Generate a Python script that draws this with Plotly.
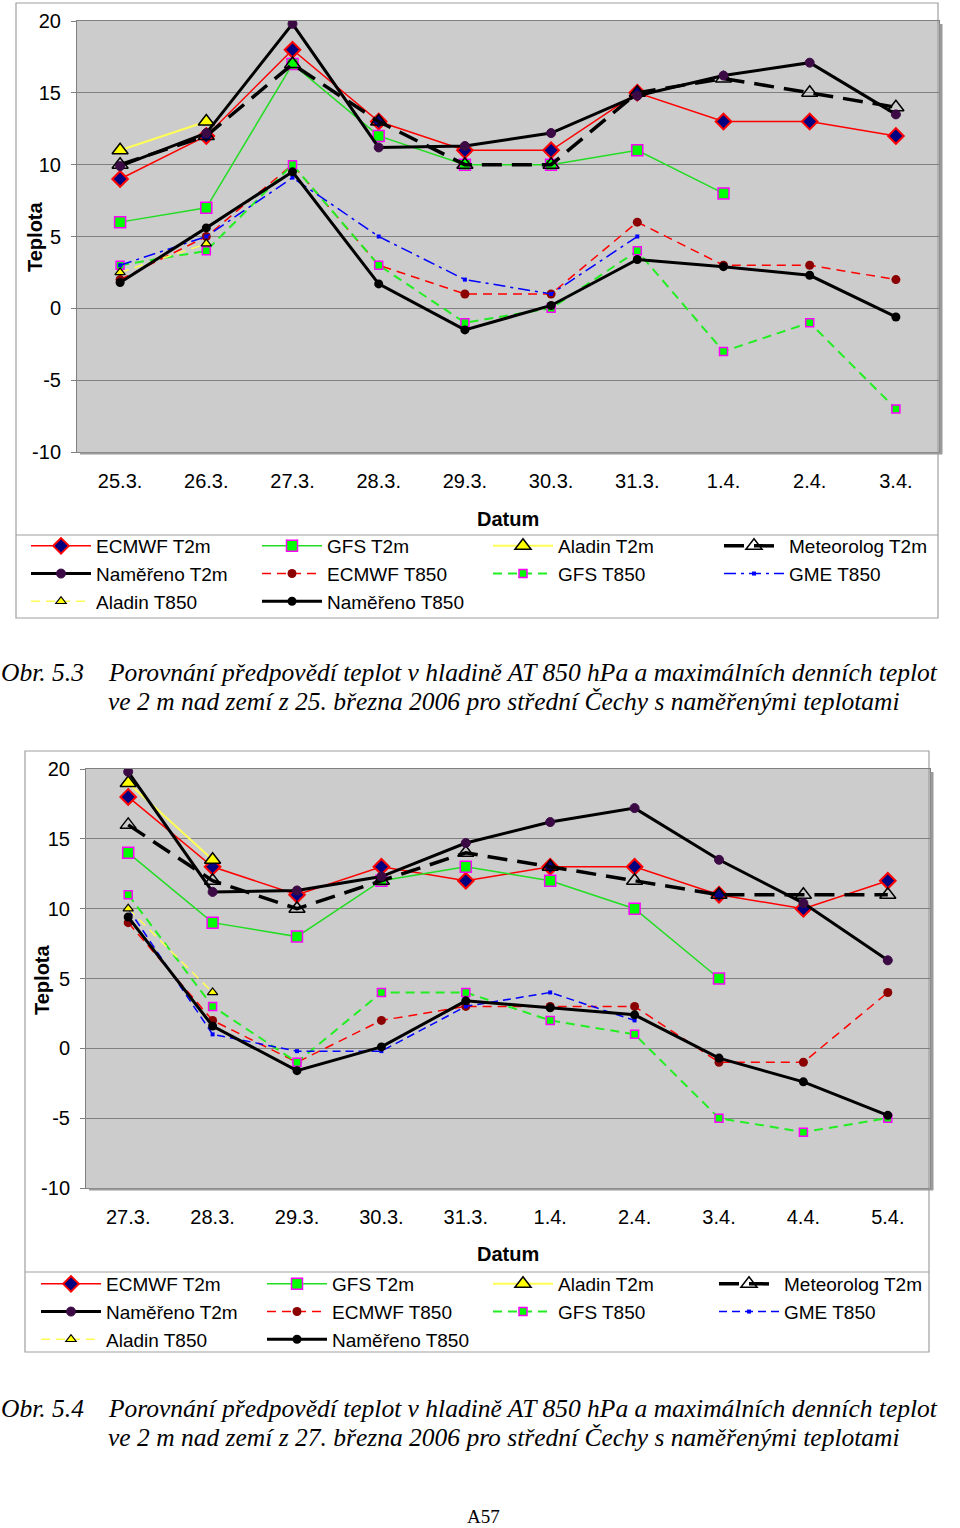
import plotly.graph_objects as go

W, H = 960, 1528

# ---------------- data ----------------
series_names = ["ECMWF T2m", "GFS T2m", "Aladin T2m", "Meteorolog T2m", "Naměřeno T2m",
                "ECMWF T850", "GFS T850", "GME T850", "Aladin T850", "Naměřeno T850"]

dates_a = ["25.3.", "26.3.", "27.3.", "28.3.", "29.3.", "30.3.", "31.3.", "1.4.", "2.4.", "3.4."]
ecmwf_t2m_a = [9, 12, 18, 13, 11, 11, 15, 13, 13, 12]
gfs_t2m_a = [6, 7, 17, 12, 10, 10, 11, 8, None, None]
aladin_t2m_a = [11, 13, None, None, None, None, None, None, None, None]
meteo_t2m_a = [10, 12, 17, 13, 10, 10, 15, 16, 15, 14]
nam_t2m_a = [9.9, 12.2, 19.8, 11.2, 11.3, 12.2, 14.8, 16.2, 17.1, 13.5]
ecmwf_t850_a = [2, 5, 10, 3, 1, 1, 6, 3, 3, 2]
gfs_t850_a = [3, 4, 10, 3, -1, 0, 4, -3, -1, -7]
gme_t850_a = [3, 5, 9.1, 5, 2, 1, 5, None, None, None]
aladin_t850_a = [2.5, 4.5, None, None, None, None, None, None, None, None]
nam_t850_a = [1.8, 5.6, 9.5, 1.7, -1.5, 0.2, 3.4, 2.9, 2.3, -0.6]

dates_b = ["27.3.", "28.3.", "29.3.", "30.3.", "31.3.", "1.4.", "2.4.", "3.4.", "4.4.", "5.4."]
ecmwf_t2m_b = [18, 13, 11, 13, 12, 13, 13, 11, 10, 12]
gfs_t2m_b = [14, 9, 8, 12, 13, 12, 10, 5, None, None]
aladin_t2m_b = [19, 13.5, None, None, None, None, None, None, None, None]
meteo_t2m_b = [16, 12, 10, 12, 14, 13, 12, 11, 11, 11]
nam_t2m_b = [19.8, 11.2, 11.3, 12.3, 14.7, 16.2, 17.2, 13.5, 10.4, 6.3]
ecmwf_t850_b = [9, 2, -1, 2, 3, 3, 3, -1, -1, 4]
gfs_t850_b = [11, 3, -1, 4, 4, 2, 1, -5, -6, -5]
gme_t850_b = [10, 1, -0.2, -0.2, 3, 4, 2, None, None, None]
aladin_t850_b = [10, 4, None, None, None, None, None, None, None, None]
nam_t850_b = [9.4, 1.6, -1.6, 0.1, 3.4, 2.9, 2.4, -0.7, -2.4, -4.8]

values_a = [ecmwf_t2m_a, gfs_t2m_a, aladin_t2m_a, meteo_t2m_a, nam_t2m_a,
            ecmwf_t850_a, gfs_t850_a, gme_t850_a, aladin_t850_a, nam_t850_a]
values_b = [ecmwf_t2m_b, gfs_t2m_b, aladin_t2m_b, meteo_t2m_b, nam_t2m_b,
            ecmwf_t850_b, gfs_t850_b, gme_t850_b, aladin_t850_b, nam_t850_b]

y_ticks = [-10, -5, 0, 5, 10, 15, 20]

# ---------------- styles ----------------
FONT = "Arial, Liberation Sans, sans-serif"
SERIF = "Times New Roman, Liberation Serif, serif"


def style(name, chart):
    s = {
        "ECMWF T2m": (dict(color="#FF0000", width=1.5),
                      dict(symbol="diamond", size=12, color="#000080", line=dict(color="#FF0000", width=2))),
        "GFS T2m": (dict(color="#22DD22", width=1.5),
                    dict(symbol="square", size=11, color="#00FF00", line=dict(color="#FF00FF", width=1.5))),
        "Aladin T2m": (dict(color="#FFFF55", width=2),
                       dict(symbol="triangle-up", size=14, color="#FFFF00", line=dict(color="#000000", width=1.5))),
        "Meteorolog T2m": (dict(color="#000000", width=3.5, dash="20px,10px"),
                           dict(symbol="triangle-up-open", size=14, color="#000000", line=dict(width=1.5))),
        "Naměřeno T2m": (dict(color="#000000", width=3),
                         dict(symbol="circle", size=9, color="#3B0A45", line=dict(color="#3B0A45", width=1))),
        "ECMWF T850": (dict(color="#FF0000", width=1.5, dash="9px,6px"),
                       dict(symbol="circle", size=9, color="#8B0000", line=dict(width=0))),
        "GFS T850": (dict(color="#22EE22", width=2, dash="9px,6px"),
                     dict(symbol="square", size=8, color="#00FF00", line=dict(color="#FF00FF", width=1.5))),
        "GME T850": (dict(color="#0000FF", width=1.5,
                          dash="12px,5px,3px,5px" if chart == 0 else "8px,5px"),
                     dict(symbol="square", size=4, color="#0000FF", line=dict(width=0))),
        "Aladin T850": (dict(color="#FFFF55", width=1.5, dash="9px,6px"),
                        dict(symbol="triangle-up", size=9, color="#FFFF00", line=dict(color="#000000", width=1.2))),
        "Naměřeno T850": (dict(color="#000000", width=3),
                          dict(symbol="circle", size=9, color="#000000", line=dict(width=0))),
    }
    return s[name]


fig = go.Figure()

for ci, (dates, values) in enumerate([(dates_a, values_a), (dates_b, values_b)]):
    xa = "x" if ci == 0 else "x2"
    ya = "y" if ci == 0 else "y2"
    lg = "legend" if ci == 0 else "legend2"
    for name, vals in zip(series_names, values):
        ln, mk = style(name, ci)
        fig.add_trace(go.Scatter(
            x=dates, y=vals, name=name, mode="lines+markers",
            line=ln, marker=mk, connectgaps=False,
            xaxis=xa, yaxis=ya, legend=lg, hoverinfo="x+y+name",
        ))


def py(p):
    return 1 - p / H


def px(p):
    return p / W


# plot areas in pixels: left, right, top, bottom
areas = [(77, 939, 21, 452), (86, 930, 769, 1188)]
dom = [dict(x=[px(l), px(r)], y=[py(b), py(t)]) for (l, r, t, b) in areas]

GRID = "#808080"

layout = dict(
    width=W, height=H,
    margin=dict(l=0, r=0, t=0, b=0, autoexpand=False),
    paper_bgcolor="white",
    plot_bgcolor="#CCCCCC",
    font=dict(family=FONT, size=20, color="black"),
    showlegend=True,
)

for ci, (dates, d) in enumerate(zip([dates_a, dates_b], dom)):
    sx = "" if ci == 0 else "2"
    ov = str(3 + ci)
    ymin, ymax = y_ticks[0], y_ticks[-1]
    zero_pos = d["y"][0] + (0 - ymin) / (ymax - ymin) * (d["y"][1] - d["y"][0])
    layout["xaxis" + sx] = dict(
        domain=d["x"], anchor="y" + sx, type="category",
        categoryorder="array", categoryarray=dates,
        range=[-0.5, len(dates) - 0.5],
        showgrid=False, zeroline=False, ticks="",
        showline=True, mirror=True, linecolor=GRID, linewidth=1,
        tickfont=dict(family=FONT, size=20), ticklabelstandoff=11,
        fixedrange=True,
    )
    layout["yaxis" + sx] = dict(
        domain=d["y"], anchor="x" + sx, range=[ymin, ymax],
        tickvals=y_ticks, ticktext=[str(v) for v in y_ticks],
        showgrid=True, gridcolor=GRID, gridwidth=1,
        zeroline=True, zerolinecolor=GRID, zerolinewidth=1,
        showline=True, mirror=True, linecolor=GRID, linewidth=1,
        ticks="outside", ticklen=5, tickcolor=GRID,
        tickfont=dict(family=FONT, size=20), ticklabelstandoff=6,
        fixedrange=True,
    )
    # category-boundary tick marks on the axis crossing at 0
    layout["xaxis" + ov] = dict(
        overlaying="x" + sx, anchor="free", position=zero_pos,
        domain=d["x"], range=[-0.5, len(dates) - 0.5],
        tickvals=[i + 0.5 for i in range(len(dates) - 1)],
        ticks="outside", ticklen=5, tickcolor=GRID,
        showticklabels=False, showgrid=False, zeroline=False,
        showline=True, linecolor=GRID, linewidth=1, fixedrange=True,
    )

legend_common = dict(
    orientation="h", xanchor="left", yanchor="top",
    entrywidthmode="pixels", itemwidth=60,
    font=dict(family=FONT, size=19, color="black"),
    bgcolor="rgba(0,0,0,0)", borderwidth=0, traceorder="normal",
    itemclick=False, itemdoubleclick=False,
)
layout["legend"] = dict(legend_common, x=px(26), y=py(527), entrywidth=156)
layout["legend2"] = dict(legend_common, x=px(36), y=py(1265), entrywidth=151)

shapes = []
BORDER = "#A0A0A0"
# outer chart frames and legend boxes
for (x0, x1, y0, y1, yl) in [(16, 938, 3, 618, 535), (25, 929, 751, 1352, 1272)]:
    shapes.append(dict(type="rect", xref="paper", yref="paper", x0=px(x0), x1=px(x1),
                       y0=py(y1), y1=py(y0), line=dict(color=BORDER, width=1.2), layer="below"))
    shapes.append(dict(type="line", xref="paper", yref="paper", x0=px(x0), x1=px(x1),
                       y0=py(yl), y1=py(yl), line=dict(color=BORDER, width=1.2)))
# plot area shadow (right and bottom)
for (l, r, t, b) in areas:
    shapes.append(dict(type="line", xref="paper", yref="paper",
                       x0=px(r + 2), x1=px(r + 2), y0=py(b + 2), y1=py(t + 3),
                       line=dict(color="#9A9A9A", width=3)))
    shapes.append(dict(type="line", xref="paper", yref="paper",
                       x0=px(l + 3), x1=px(r + 3), y0=py(b + 1.5), y1=py(b + 1.5),
                       line=dict(color="#9A9A9A", width=2)))
layout["shapes"] = shapes

ann = []
for d, tx, ty, dy in [(dom[0], 35, 237, 519), (dom[1], 42, 980, 1254)]:
    ann.append(dict(text="<b>Teplota</b>", x=px(tx), y=py(ty), xref="paper", yref="paper",
                    textangle=-90, showarrow=False, xanchor="center", yanchor="middle",
                    font=dict(family=FONT, size=20)))
    ann.append(dict(text="<b>Datum</b>", x=(d["x"][0] + d["x"][1]) / 2, y=py(dy),
                    xref="paper", yref="paper", showarrow=False,
                    xanchor="center", yanchor="middle", font=dict(family=FONT, size=20)))

captions = [
    ("Obr. 5.3", 672,
     "Porovnání předpovědí teplot v hladině AT 850 hPa a maximálních denních teplot",
     "ve 2 m nad zemí z 25. března 2006 pro střední Čechy s naměřenými teplotami"),
    ("Obr. 5.4", 1408,
     "Porovnání předpovědí teplot v hladině AT 850 hPa a maximálních denních teplot",
     "ve 2 m nad zemí z 27. března 2006 pro střední Čechy s naměřenými teplotami"),
]
CAP = 25.5
for lab, yc, l1, l2 in captions:
    ann.append(dict(text="<i>" + lab + "</i>", x=px(-1), y=py(yc), xref="paper", yref="paper",
                    showarrow=False, xanchor="left", yanchor="middle",
                    font=dict(family=SERIF, size=CAP)))
    ann.append(dict(text="<i>" + l1 + "</i>", x=px(106), y=py(yc), xref="paper", yref="paper",
                    showarrow=False, xanchor="left", yanchor="middle",
                    font=dict(family=SERIF, size=CAP)))
    ann.append(dict(text="<i>" + l2 + "</i>", x=px(106), y=py(yc + 29), xref="paper", yref="paper",
                    showarrow=False, xanchor="left", yanchor="middle",
                    font=dict(family=SERIF, size=CAP)))
ann.append(dict(text="A57", x=px(483), y=py(1516), xref="paper", yref="paper",
                showarrow=False, xanchor="center", yanchor="middle", borderpad=0,
                font=dict(family=SERIF, size=19)))
layout["annotations"] = ann

fig.update_layout(**layout)
fig.write_html("out.html", config={"displayModeBar": False},
               post_script="document.body.style.margin='0px';")
